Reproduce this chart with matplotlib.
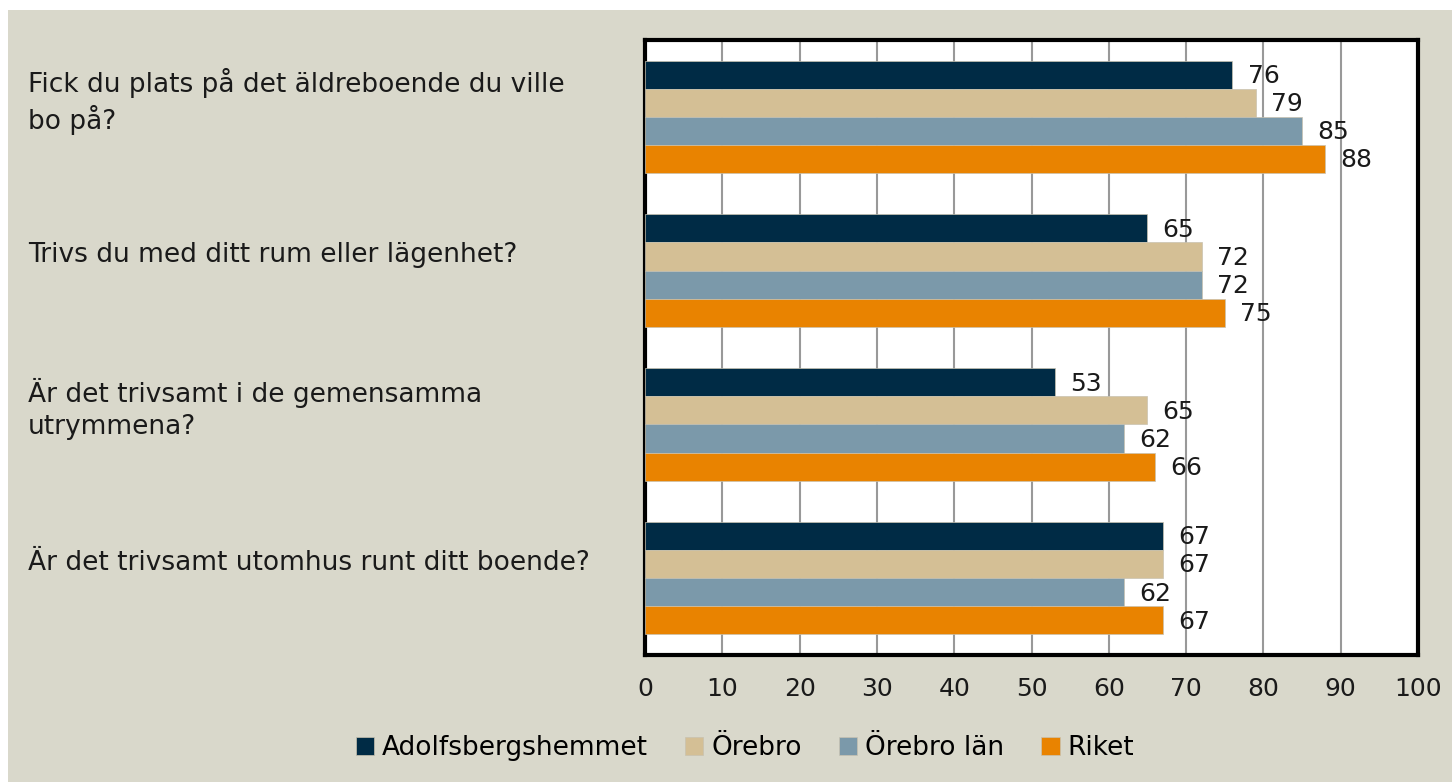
import numpy as np
import matplotlib.pyplot as plt
from matplotlib.patches import Rectangle
from matplotlib.transforms import blended_transform_factory

# --- Data ---
questions = [
    'Fick du plats på det äldreboende du ville\nbo på?',
    'Trivs du med ditt rum eller lägenhet?',
    'Är det trivsamt i de gemensamma\nutrymmena?',
    'Är det trivsamt utomhus runt ditt boende?',
]
series_names = ['Adolfsbergshemmet', 'Örebro', 'Örebro län', 'Riket']
adolfsberg = [76, 65, 53, 67]
orebro = [79, 72, 65, 67]
orebro_lan = [85, 72, 62, 62]
riket = [88, 75, 66, 67]
x_ticks = list(range(0, 101, 10))

colors = ['#002B45', '#D4BF95', '#7B99AA', '#E98300']
BG = '#D9D8CB'
TXT = '#1A1A1A'

# --- Figure ---
fig = plt.figure(figsize=(14.52, 7.82), dpi=100)
fig.patch.set_facecolor(BG)
# white strips at the top and left edge
fig.add_artist(Rectangle((0, 1 - 10 / 782), 1, 10 / 782, transform=fig.transFigure,
                         facecolor='white', edgecolor='none'))
fig.add_artist(Rectangle((0, 0), 8 / 1452, 1, transform=fig.transFigure,
                         facecolor='white', edgecolor='none'))

ax = fig.add_axes([645 / 1452, 1 - 655 / 782, (1418 - 645) / 1452, (655 - 40) / 782])
ax.set_facecolor('white')

values = [adolfsberg, orebro, orebro_lan, riket]
y = np.arange(len(questions))
bar_h = 0.183
for i, (name, vals, col) in enumerate(zip(series_names, values, colors)):
    pos = y + (i - 1.5) * bar_h
    ax.barh(pos, vals, height=bar_h, color=col, label=name, zorder=3,
            edgecolor='#C8C2B0', linewidth=0.5)
    for p, v in zip(pos, vals):
        ax.annotate(str(v), (v, p), xytext=(11, -1), textcoords='offset points',
                    va='center', ha='left', fontsize=18, color=TXT, zorder=4)

ax.set_xlim(0, 100)
ax.set_ylim(len(questions) - 0.5, -0.5)
ax.set_xticks(x_ticks)
ax.tick_params(axis='x', length=0, pad=16, labelsize=18, labelcolor=TXT)
ax.set_yticks([])
ax.grid(axis='x', color='#999999', linewidth=1.5, zorder=0)
for s in ax.spines.values():
    s.set_color('black')
    s.set_linewidth(3)

# category labels, left aligned at the figure edge
trans = blended_transform_factory(fig.transFigure, ax.transData)
for yi, q in zip(y, questions):
    fig.text(28 / 1452, yi - 0.1, q, transform=trans, ha='left', va='center',
             fontsize=19, color=TXT, linespacing=1.3)

leg = fig.legend(loc='center', bbox_to_anchor=(745 / 1452, 1 - 748 / 782), ncol=4,
                 frameon=False, fontsize=19, handlelength=0.7, handleheight=0.7,
                 handletextpad=0.3, columnspacing=1.4)

fig.savefig('out.png', dpi=100, facecolor=fig.get_facecolor())
